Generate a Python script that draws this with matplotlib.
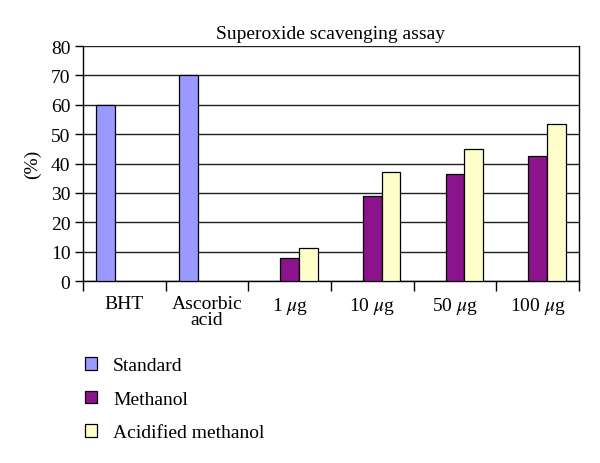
import numpy as np
import matplotlib
matplotlib.use("Agg")
import matplotlib.pyplot as plt
from matplotlib.patches import Patch

# =========================
# Data
# =========================
categories = ["BHT", "Ascorbic\nacid", "1 $\\mu$g", "10 $\\mu$g", "50 $\\mu$g", "100 $\\mu$g"]
standard   = [60, 70, 0, 0, 0, 0]
methanol   = [0, 0, 7.8, 28.8, 36.5, 42.7]
acidified  = [0, 0, 11.3, 37.2, 45.0, 53.5]
series_names = ["Standard", "Methanol", "Acidified methanol"]
colors = ["#9999FF", "#8B138B", "#FFFFCC"]

plt.rcParams['font.family'] = ['Liberation Serif', 'DejaVu Serif']
plt.rcParams['mathtext.fontset'] = 'stix'
FS = 14

fig = plt.figure(figsize=(6, 4.64), dpi=100)
ax = fig.add_axes([0.1383, 0.392, 0.8267, 0.5067])

x = np.arange(len(categories))
w = 0.225
for i, vals in enumerate([standard, methanol, acidified]):
    xs = x + (i - 1) * w
    keep = [j for j, v in enumerate(vals) if v > 0]
    ax.bar(xs[keep], [vals[j] for j in keep], width=w, color=colors[i],
           edgecolor="black", linewidth=0.9, zorder=3)

ax.set_xlim(-0.5, len(categories) - 0.5)
ax.set_ylim(0, 80)
ax.set_yticks(range(0, 81, 10))
ax.yaxis.grid(True, color="#222222", linewidth=1.0, zorder=0)

# ticks between groups on x
ax.set_xticks(np.arange(-0.5, len(categories), 1.0))
ax.set_xticklabels([])
ax.set_xticks(x, minor=True)
ax.set_xticklabels(categories, minor=True, fontsize=FS, linespacing=0.95)
ax.tick_params(axis="x", which="minor", length=0, pad=10)
ax.tick_params(axis="x", which="major", length=7, width=1, direction="out")
ax.tick_params(axis="y", length=6, width=1, direction="out", labelsize=FS, pad=3)

for s in ax.spines.values():
    s.set_linewidth(1.0)
ax.spines["top"].set_visible(False)
ax.spines["right"].set_color("black")

ax.set_title("Superoxide scavenging assay", fontsize=FS, pad=6)
ax.set_ylabel("(%)", fontsize=FS, labelpad=7)

handles = [Patch(facecolor=c, edgecolor="black", linewidth=0.9) for c in colors]
fig.legend(handles, series_names, loc="upper left", bbox_to_anchor=(0.128, 0.245),
           frameon=False, fontsize=FS, handlelength=0.62, handleheight=0.62,
           handletextpad=0.85, labelspacing=0.84, borderaxespad=0)

fig.savefig("out.png", dpi=100)
